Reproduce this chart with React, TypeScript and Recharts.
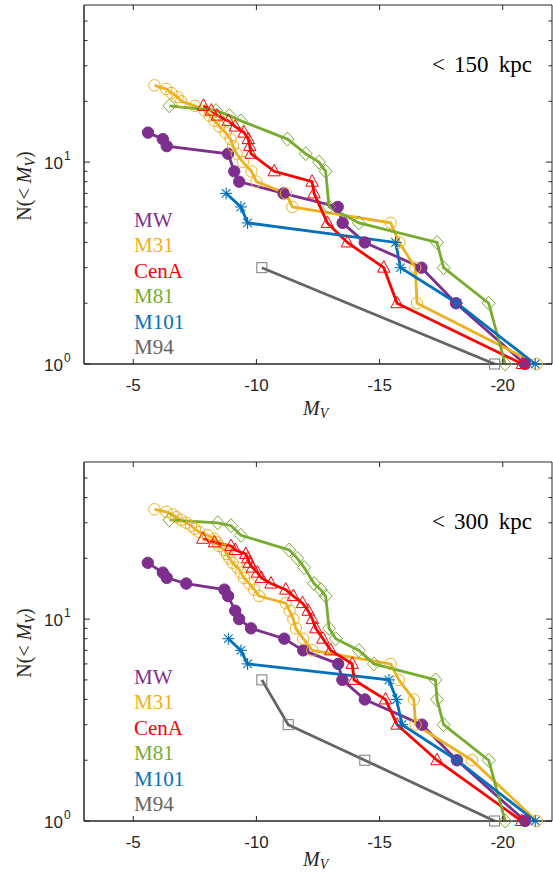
import React from 'react';
import { LineChart, Line, XAxis, YAxis, ReferenceArea } from 'recharts';

// ---- data: [M_V, N(<M_V)] ----------------------------------------------------

const X_TICKS = [-20, -15, -10, -5];
const Y_TICKS = [1, 2, 3, 4, 5, 6, 7, 8, 9, 10, 20, 30, 40, 50];

// < 150 kpc
const mw150 = [[-5.6, 14], [-6.2, 13], [-6.36, 12], [-8.85, 11], [-9.1, 9], [-9.3, 8], [-11.1, 7], [-13.3, 6], [-13.5, 5], [-14.4, 4], [-16.7, 3], [-18.1, 2], [-20.9, 1]];
const m31_150 = [[-5.86, 24], [-6.34, 23], [-6.55, 22], [-6.8, 21], [-6.95, 20], [-7.5, 19], [-7.9, 18], [-8.1, 17], [-8.3, 16], [-8.5, 15], [-8.75, 14], [-8.95, 13], [-9.05, 12], [-9.2, 11], [-9.45, 10], [-9.8, 9], [-10.0, 8], [-11.2, 7], [-11.46, 6], [-15.45, 5], [-15.8, 4], [-16.45, 3], [-16.52, 2], [-21.38, 1]];
const cenA150 = [[-7.85, 19], [-8.17, 18], [-8.41, 17], [-8.86, 16], [-9.14, 15], [-9.5, 14], [-9.67, 13], [-9.73, 12], [-9.78, 11], [-10.72, 9], [-12.26, 8], [-12.34, 7], [-12.88, 5], [-13.69, 4], [-15.17, 3], [-15.71, 2], [-20.8, 1]];
const m81_150 = [[-6.47, 19], [-8.36, 18], [-8.9, 17], [-9.37, 16], [-11.26, 13], [-12.0, 11], [-12.54, 10], [-12.81, 9], [-12.95, 6], [-14.16, 5], [-17.33, 4], [-17.6, 3], [-19.43, 2], [-20.1, 1]];
const m101_150 = [[-8.77, 7], [-9.37, 6], [-9.64, 5], [-15.65, 4], [-15.85, 3], [-18.14, 2], [-21.32, 1]];
const m94_150 = [[-10.22, 3], [-19.67, 1]];

// < 300 kpc
const mw300 = [[-5.59, 19], [-6.2, 17], [-6.36, 16], [-7.15, 15], [-8.7, 14], [-8.85, 13], [-9.14, 11], [-9.3, 10], [-9.78, 9], [-11.13, 8], [-11.9, 7], [-13.32, 6], [-13.49, 5], [-14.4, 4], [-16.72, 3], [-18.14, 2], [-20.91, 1]];
const m31_300 = [[-5.86, 35], [-6.34, 34], [-6.6, 33], [-6.75, 32], [-6.94, 31], [-7.15, 30], [-7.35, 29], [-7.5, 28], [-7.68, 27], [-8.02, 26], [-8.29, 25], [-8.4, 24], [-8.49, 23], [-8.7, 22], [-8.8, 21], [-8.9, 20], [-9.03, 19], [-9.23, 18], [-9.37, 17], [-9.5, 16], [-9.71, 15], [-9.91, 14], [-10.11, 13], [-11.19, 12], [-11.35, 11], [-11.5, 10], [-11.6, 9], [-11.9, 8], [-12.27, 7], [-15.45, 6], [-15.78, 5], [-16.39, 4], [-16.46, 3], [-18.75, 2], [-21.38, 1]];
const cenA300 = [[-7.82, 25], [-8.3, 24], [-8.97, 23], [-9.14, 22], [-9.57, 21], [-9.65, 20], [-9.71, 19], [-9.84, 18], [-10.04, 17], [-10.2, 16], [-10.59, 15], [-11.19, 14], [-11.5, 13], [-11.87, 12], [-12.1, 11], [-12.27, 10], [-12.41, 9], [-12.7, 8], [-13.02, 7], [-13.89, 6], [-13.96, 5], [-15.24, 4], [-15.71, 3], [-17.33, 2], [-20.77, 1]];
const m81_300 = [[-6.47, 31], [-8.43, 30], [-8.97, 29], [-9.37, 26], [-11.33, 22], [-11.66, 20], [-11.94, 18], [-12.34, 15], [-12.61, 14], [-12.81, 13], [-12.95, 9], [-13.22, 8], [-14.16, 7], [-14.77, 6], [-17.27, 5], [-17.33, 4], [-17.6, 3], [-19.43, 2], [-20.1, 1]];
const m101_300 = [[-8.86, 8], [-9.37, 7], [-9.64, 6], [-15.38, 5], [-15.69, 4], [-15.91, 3], [-18.14, 2], [-21.32, 1]];
const m94_300 = [[-10.22, 5], [-11.29, 3], [-14.4, 2], [-19.67, 1]];

const HOSTS = [
  { name: 'MW', color: '#7E2F8E', shape: 'disc' },
  { name: 'M31', color: '#EDB120', shape: 'circle' },
  { name: 'CenA', color: '#FF0000', shape: 'triangle' },
  { name: 'M81', color: '#77AC30', shape: 'diamond' },
  { name: 'M101', color: '#0072BD', shape: 'star' },
  { name: 'M94', color: '#646464', shape: 'square' },
];

// ---- layout ------------------------------------------------------------------

const W = 553;
const H = 420;
const Y_AXIS_W = 84;
const X_AXIS_H = 56;
const MARGIN = { top: 5, right: 1, bottom: 0, left: 0 };
const PLOT_W = W - Y_AXIS_W - MARGIN.right;
const PLOT_H = H - MARGIN.top - X_AXIS_H;
const AX = '#262626';
const SANS = '"Liberation Sans", Arial, sans-serif';
const SERIF = '"Liberation Serif", "Times New Roman", serif';

function Marker({ cx, cy, shape, color }: any) {
  if (cx == null || cy == null) return null;
  const sw = 1;
  switch (shape) {
    case 'disc':
      return <circle cx={cx} cy={cy} r={5.7} fill={color} stroke={color} />;
    case 'circle':
      return <circle cx={cx} cy={cy} r={5.7} fill="none" stroke={color} strokeWidth={sw} />;
    case 'triangle':
      return (
        <polygon
          points={`${cx},${cy - 7} ${cx - 6.2},${cy + 4.5} ${cx + 6.2},${cy + 4.5}`}
          fill="none"
          stroke={color}
          strokeWidth={sw}
        />
      );
    case 'diamond':
      return (
        <polygon
          points={`${cx},${cy - 7} ${cx + 6.5},${cy} ${cx},${cy + 7} ${cx - 6.5},${cy}`}
          fill="none"
          stroke={color}
          strokeWidth={sw}
        />
      );
    case 'star': {
      const r = 6;
      const d = 4.3;
      return (
        <g stroke={color} strokeWidth={1.1}>
          <line x1={cx - r} y1={cy} x2={cx + r} y2={cy} />
          <line x1={cx} y1={cy - r} x2={cx} y2={cy + r} />
          <line x1={cx - d} y1={cy - d} x2={cx + d} y2={cy + d} />
          <line x1={cx - d} y1={cy + d} x2={cx + d} y2={cy - d} />
        </g>
      );
    }
    default:
      return <rect x={cx - 5} y={cy - 5} width={10} height={10} fill="none" stroke="#7a7a7a" strokeWidth={sw} />;
  }
}

// ticks drawn inward on both sides of the box
function XTick({ x, y, payload }: any) {
  return (
    <g>
      <line x1={x} x2={x} y1={y} y2={y - 5} stroke={AX} />
      <line x1={x} x2={x} y1={y - PLOT_H} y2={y - PLOT_H + 5} stroke={AX} />
      <text x={x} y={y + 27} textAnchor="middle" fontFamily={SANS} fontSize={17} fill={AX}>
        {payload.value}
      </text>
    </g>
  );
}

function YTick({ x, y, payload }: any) {
  const v = payload.value;
  const major = v === 1 || v === 10;
  const len = major ? 6 : 3.5;
  return (
    <g>
      <line x1={x} x2={x + len} y1={y} y2={y} stroke={AX} />
      <line x1={x + PLOT_W} x2={x + PLOT_W - len} y1={y} y2={y} stroke={AX} />
      {major && (
        <g fontFamily={SANS} fill={AX}>
          <text x={x - 21} y={y + 6.5} textAnchor="end" fontSize={17}>
            10
          </text>
          <text x={x - 20} y={y - 2} textAnchor="start" fontSize={12}>
            {v === 1 ? '0' : '1'}
          </text>
        </g>
      )}
    </g>
  );
}

const toRows = (pts: number[][]) => pts.map(([mv, n]) => ({ mv, n }));

function Panel({ top, sets, radius, xLabelY }: { top: number; sets: number[][][]; radius: string; xLabelY: number }) {
  return (
    <div style={{ position: 'absolute', left: 0, top, width: W, height: H }}>
      <LineChart width={W} height={H} margin={MARGIN}>
        <XAxis
          type="number"
          dataKey="mv"
          domain={[-22, -3]}
          reversed
          ticks={X_TICKS}
          interval={0}
          tickSize={0}
          tickMargin={0}
          tickLine={false}
          axisLine={{ stroke: AX }}
          height={X_AXIS_H}
          tick={<XTick />}
        />
        <YAxis
          type="number"
          dataKey="n"
          scale="log"
          domain={[1, 60]}
          ticks={Y_TICKS}
          interval={0}
          tickSize={0}
          tickMargin={0}
          tickLine={false}
          axisLine={{ stroke: AX }}
          width={Y_AXIS_W}
          tick={<YTick />}
        />
        <ReferenceArea x1={-22} x2={-3} y1={1} y2={60} fill="none" stroke={AX} strokeWidth={1} />
        {HOSTS.map((h, i) => (
          <Line
            key={h.name}
            data={toRows(sets[i])}
            dataKey="n"
            type="linear"
            stroke={h.color}
            strokeWidth={2.8}
            isAnimationActive={false}
            activeDot={false}
            dot={(p: any) => <Marker key={`${h.name}-${p.index}`} cx={p.cx} cy={p.cy} shape={h.shape} color={h.color} />}
          />
        ))}
      </LineChart>
      <svg
        width={W}
        height={H}
        style={{ position: 'absolute', left: 0, top: 0, pointerEvents: 'none', overflow: 'visible' }}
      >
        {HOSTS.map((h, i) => (
          <text key={h.name} x={134} y={227 + 25.4 * i} fontFamily={SERIF} fontSize={21} fill={h.color}>
            {h.name}
          </text>
        ))}
        <g fontFamily={SERIF} fontSize={23} fill="#000">
          <text x={432} y={72}>&lt;</text>
          <text x={454} y={72}>{radius}</text>
          <text x={532} y={72} textAnchor="end">kpc</text>
        </g>
        <text
          transform="translate(31,186) rotate(-90)"
          textAnchor="middle"
          fontFamily={SERIF}
          fontSize={20}
          fill={AX}
        >
          N(&lt; <tspan fontStyle="italic">M</tspan>
          <tspan fontStyle="italic" fontSize={14} dy={4}>V</tspan>
          <tspan dy={-4}>)</tspan>
        </text>
        <text x={303} y={xLabelY} fontFamily={SERIF} fontSize={20} fill={AX}>
          <tspan fontStyle="italic">M</tspan>
          <tspan fontStyle="italic" fontSize={14} dy={3}>V</tspan>
        </text>
      </svg>
    </div>
  );
}

export default function App() {
  return (
    <div style={{ position: 'absolute', left: 0, top: 0, width: W, height: 877, background: '#fff', overflow: 'hidden' }}>
      <Panel top={0} xLabelY={415} radius="150" sets={[mw150, m31_150, cenA150, m81_150, m101_150, m94_150]} />
      <Panel top={457} xLabelY={409} radius="300" sets={[mw300, m31_300, cenA300, m81_300, m101_300, m94_300]} />
    </div>
  );
}
